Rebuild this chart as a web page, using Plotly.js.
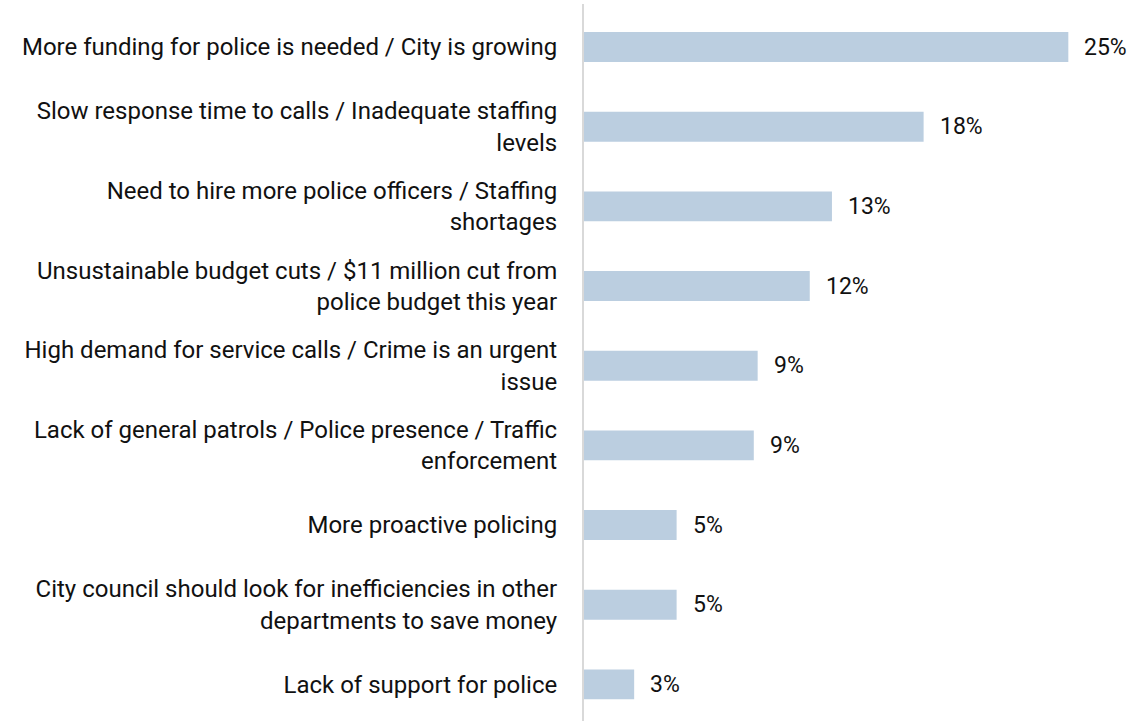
<!DOCTYPE html>
<html>
<head>
<meta charset="utf-8">
<script src="https://cdn.plot.ly/plotly-3.0.1.min.js"></script>
<style>html,body{margin:0;padding:0;background:#fff;}#chart{width:1132px;height:721px;}</style>
</head>
<body>
<div id="chart"></div>
<script>
const categories = [
  "More funding for police is needed / City is growing",
  "Slow response time to calls / Inadequate staffing<br>levels",
  "Need to hire more police officers / Staffing<br>shortages",
  "Unsustainable budget cuts / $11 million cut from<br>police budget this year",
  "High demand for service calls / Crime is an urgent<br>issue",
  "Lack of general patrols / Police presence / Traffic<br>enforcement",
  "More proactive policing",
  "City council should look for inefficiencies in other<br>departments to save money",
  "Lack of support for police"
];
const values = [25.1, 17.6, 12.85, 11.7, 9.0, 8.8, 4.8, 4.8, 2.6];
const valueLabels = ["25%", "18%", "13%", "12%", "9%", "9%", "5%", "5%", "3%"];

const FONT = "Roboto, 'Open Sans', sans-serif";

const trace = {
  type: "bar",
  orientation: "h",
  x: values,
  y: categories,
  width: 0.376,
  marker: {color: "#BBCEE0"},
  hoverinfo: "none"
};

const annotations = values.map((v, i) => ({
  x: v, y: categories[i], xref: "x", yref: "y",
  text: valueLabels[i], showarrow: false,
  xanchor: "left", yanchor: "middle", xshift: 14,
  font: {family: FONT, size: 23, color: "#111"}
}));

const layout = {
  width: 1132, height: 721,
  margin: {l: 584, r: 0, t: 4, b: 0, pad: 0},
  paper_bgcolor: "#fff", plot_bgcolor: "#fff",
  showlegend: false,
  xaxis: {range: [0, 28.4], showgrid: false, zeroline: false, showticklabels: false, showline: false, fixedrange: true},
  yaxis: {
    range: [8.46, -0.54],
    showgrid: false, zeroline: false,
    showline: true, linecolor: "#d9d9d9", linewidth: 2,
    ticks: "", ticklabelstandoff: 20,
    tickfont: {family: FONT, size: 24, color: "#111"},
    fixedrange: true
  },
  annotations: annotations
};

Plotly.newPlot("chart", [trace], layout, {displayModeBar: false, staticPlot: true});
</script>
</body>
</html>
